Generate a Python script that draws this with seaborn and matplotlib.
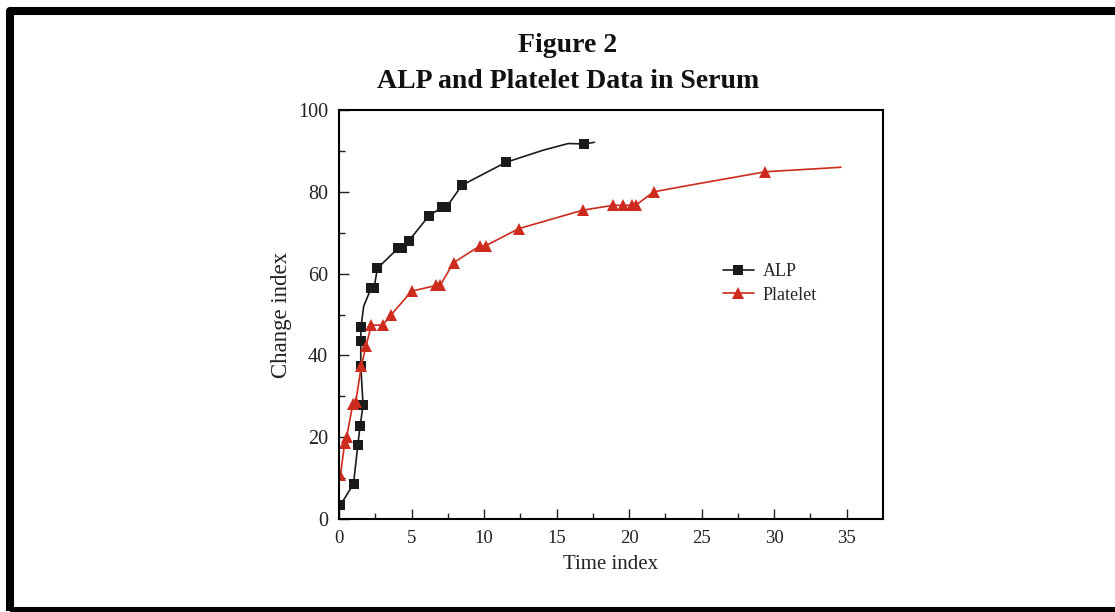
import numpy as np
import pandas as pd
import matplotlib
matplotlib.use("Agg")
import matplotlib.pyplot as plt
from matplotlib.patches import Rectangle
import seaborn as sns

# ALP series (marked = 1 where a square marker is drawn)
alp_time = [0.1, 1.0, 1.3, 1.45, 1.66, 1.5, 1.5, 1.52, 1.7, 2.23, 2.42, 2.65, 4.1, 4.37,
            4.81, 6.19, 7.1, 7.4, 8.47, 11.5, 14.1, 15.8, 16.9, 17.6]
alp_change = [3.4, 8.6, 18.1, 22.7, 27.8, 37.5, 43.6, 47.0, 52.0, 56.6, 56.6, 61.3, 66.3, 66.3,
              68.0, 74.1, 76.2, 76.2, 81.6, 87.2, 90.2, 91.8, 91.7, 92.1]
alp_marked = [1, 1, 1, 1, 1, 1, 1, 1, 0, 1, 1, 1, 1, 1,
              1, 1, 1, 1, 1, 1, 0, 0, 1, 0]

# Platelet series
plt_time = [0.1, 0.39, 0.53, 0.95, 1.15, 1.54, 1.86, 2.23, 3.0, 3.59, 5.0, 6.7, 6.97, 7.9,
            9.73, 10.1, 12.4, 16.8, 18.9, 19.6, 20.2, 20.45, 21.7, 24.0, 29.4, 34.6]
plt_change = [10.8, 18.5, 20.1, 28.0, 28.5, 37.5, 42.3, 47.4, 47.4, 49.9, 55.7, 57.1, 57.1, 62.7,
              66.8, 66.8, 71.0, 75.5, 76.7, 76.7, 76.7, 76.7, 80.0, 81.5, 84.9, 86.0]
plt_marked = [1, 1, 1, 1, 1, 1, 1, 1, 1, 1, 1, 1, 1, 1,
              1, 1, 1, 1, 1, 1, 1, 1, 1, 0, 1, 0]

sns.set_theme(style="white")
plt.rcParams['font.family'] = ['Liberation Serif', 'DejaVu Serif']

fig = plt.figure(figsize=(11.15, 6.12), dpi=100)
ax = fig.add_axes([339/1115, 1 - 519/612, 544/1115, 409/612])

alp = pd.DataFrame({"t": alp_time, "c": alp_change})
pla = pd.DataFrame({"t": plt_time, "c": plt_change})

sns.lineplot(data=alp, x="t", y="c", ax=ax, sort=False, estimator=None,
             color="#1a1a1a", lw=1.2, marker="s", markersize=7,
             markevery=[i for i, m in enumerate(alp_marked) if m],
             markeredgewidth=0, label="ALP")
sns.lineplot(data=pla, x="t", y="c", ax=ax, sort=False, estimator=None,
             color="#cc2b1d", lw=1.2, marker="^", markersize=9,
             markevery=[i for i, m in enumerate(plt_marked) if m],
             markeredgewidth=0, label="Platelet")

ax.set_xlim(0, 37.5)
ax.set_ylim(0, 100)
ax.set_xticks(np.arange(0, 36, 5))
ax.set_xticks(np.arange(2.5, 37.5, 5), minor=True)
ax.set_yticks(np.arange(0, 101, 20))
ax.set_yticks(np.arange(10, 100, 20), minor=True)
ax.tick_params(which="both", direction="in", left=True, bottom=True, top=False, right=False,
               colors="#222222", width=1.0)
ax.tick_params(which="major", length=7, pad=8)
ax.tick_params(which="minor", length=4)
ax.tick_params(axis="x", labelsize=13.5)
ax.tick_params(axis="y", labelsize=14.5)
for s in ax.spines.values():
    s.set_color("black")
    s.set_linewidth(1.5)
ax.grid(False)

ax.set_xlabel("Time index", fontsize=15, color="#222222", labelpad=6)
ax.set_ylabel("Change index", fontsize=16.5, color="#222222", labelpad=4)

ax.legend(loc="center left", bbox_to_anchor=(0.706, 0.576), frameon=False, fontsize=13,
          borderaxespad=0, borderpad=0, handlelength=1.7, handletextpad=0.5, labelspacing=0.35)

fig.text(568/1115, 1 - 46/612, "Figure 2", ha="center", va="center", fontsize=20,
         fontweight="bold", color="#111111")
fig.text(568/1115, 1 - 82/612, "ALP and Platelet Data in Serum", ha="center", va="center",
         fontsize=20, fontweight="bold", color="#111111")

# black frame around the picture
fig.add_artist(Rectangle((10/1115, 1 - 610.5/612), 1200/1115, 599.5/612,
                         transform=fig.transFigure, fill=False, edgecolor="black",
                         linewidth=5.8, joinstyle="round"))

fig.savefig("out.png", dpi=100)
